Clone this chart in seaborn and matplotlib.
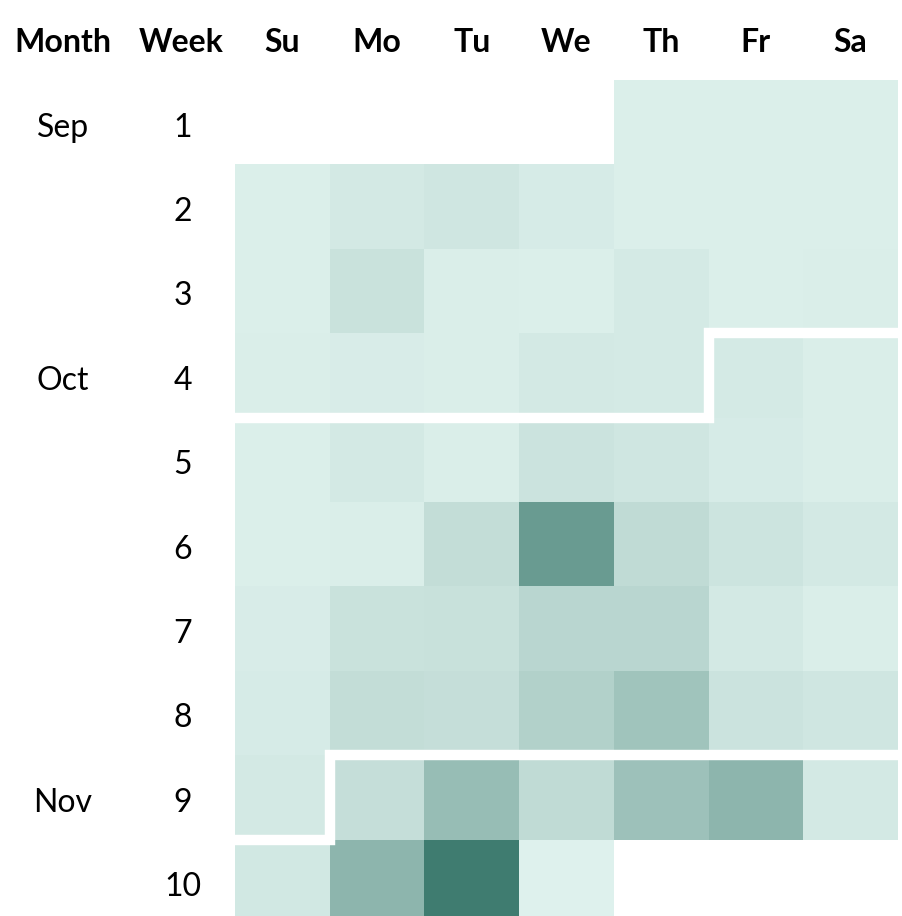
import numpy as np
import pandas as pd
import matplotlib
matplotlib.use("Agg")
import matplotlib.pyplot as plt
import seaborn as sns
from matplotlib.colors import LinearSegmentedColormap

# --- data ---
days = ["Su", "Mo", "Tu", "We", "Th", "Fr", "Sa"]
weeks = [1, 2, 3, 4, 5, 6, 7, 8, 9, 10]
month_labels = {1: "Sep", 4: "Oct", 9: "Nov"}

# relative activity per day (0 = lightest, 100 = darkest), None = outside range
week1 = [None, None, None, None, 2, 2, 2]
week2 = [2, 7, 9, 5, 2, 2, 2]
week3 = [2, 13, 3, 2, 6, 2, 3]
week4 = [3, 4, 3, 7, 6, 6, 3]
week5 = [2, 7, 3, 12, 9, 5, 3]
week6 = [2, 3, 17, 72, 19, 11, 7]
week7 = [4, 13, 14, 23, 23, 7, 3]
week8 = [5, 17, 16, 27, 38, 12, 9]
week9 = [7, 16, 44, 19, 40, 50, 7]
week10 = [8, 50, 98, 0, None, None, None]

# month boundaries as (day-col, week-row) corner paths
sep_oct = [(0, 4), (5, 4), (5, 3), (7, 3)]
oct_nov = [(0, 9), (1, 9), (1, 8), (7, 8)]

rows = [week1, week2, week3, week4, week5, week6, week7, week8, week9, week10]
df = pd.DataFrame(
    [[np.nan if v is None else v for v in r] for r in rows],
    index=weeks, columns=days, dtype=float,
)

sns.set_theme(style="white")
plt.rcParams["font.family"] = ["Lato", "DejaVu Sans"]
plt.rcParams["text.color"] = "black"

cmap = LinearSegmentedColormap.from_list("mint", ["#def1ed", "#3c7a6d"])

fig = plt.figure(figsize=(9.03, 9.16), dpi=100)
ax = fig.add_axes([235 / 903, 1 - 924 / 916, 663 / 903, 844 / 916])

sns.heatmap(df, cmap=cmap, vmin=0, vmax=100, cbar=False, ax=ax,
            linewidths=0, square=False)
ax.set_axis_off()

# month separators
for path in (sep_oct, oct_nov):
    xs = [p[0] for p in path]
    ys = [p[1] for p in path]
    ax.plot(xs, ys, color="white", lw=7.5, solid_joinstyle="miter",
            solid_capstyle="butt")

# headers
head_y = -0.33
ax.text(-1.82, head_y, "Month", ha="center", va="baseline",
        fontsize=23, fontweight="bold", color="black")
ax.text(-0.57, head_y, "Week", ha="center", va="baseline",
        fontsize=23, fontweight="bold", color="black")
for j, d in enumerate(days):
    ax.text(j + 0.5, head_y, d, ha="center", va="baseline",
            fontsize=23, fontweight="bold", color="black")

# week numbers and month names
for i, w in enumerate(weeks):
    ax.text(-0.55, i + 0.67, str(w), ha="center", va="baseline",
            fontsize=23, color="black")
    if w in month_labels:
        ax.text(-1.82, i + 0.67, month_labels[w], ha="center",
                va="baseline", fontsize=23, color="black")

fig.savefig("out.png", dpi=100)
